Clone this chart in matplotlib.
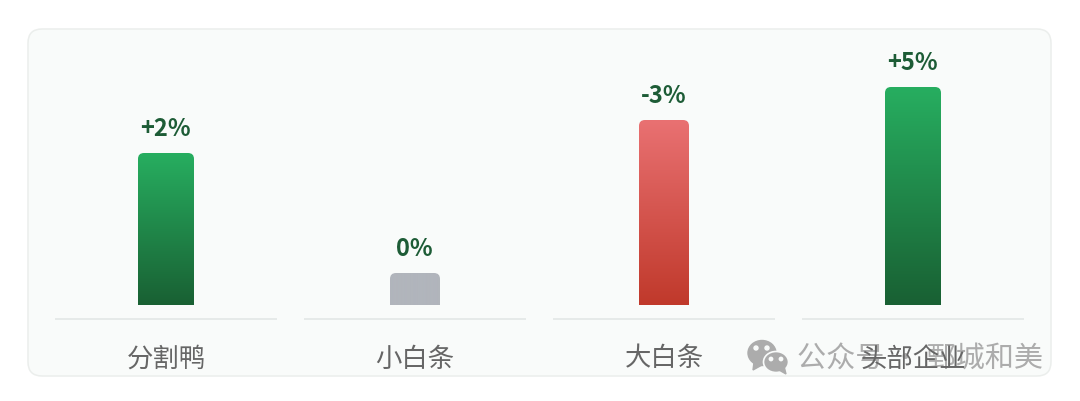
import numpy as np
import matplotlib
matplotlib.use("Agg")
import matplotlib.pyplot as plt
from matplotlib.colors import LinearSegmentedColormap
from matplotlib.patches import Ellipse, FancyBboxPatch, PathPatch, Polygon
from matplotlib.path import Path

plt.rcParams['font.family'] = ['Noto Sans CJK SC', 'DejaVu Sans']

categories = ['分割鸭', '小白条', '大白条', '头部企业']
bar_heights = [152, 32, 185, 218]
change_labels = ['+2%', '0%', '-3%', '+5%']
bar_widths = [56, 50, 50, 56]
bar_colors = [('#27ae60', '#196033'), ('#b1b5bc', '#b1b5bc'),
              ('#e97172', '#c0392b'), ('#27ae60', '#196033')]

W, H = 1080, 401
X0, STEP = 166, 249      # centre of first bar, distance between bars
BASE = 305               # pixel row of the bars' foot
RADIUS = 6


def rounded_top(x, w, h, rx, ry):
    """Контур столбца: скруглён только верх"""
    left, right = x - w / 2, x + w / 2
    verts = [(left, 0), (left, h - ry), (left, h), (left + rx, h),
             (right - rx, h), (right, h), (right, h - ry), (right, 0), (left, 0)]
    codes = [Path.MOVETO, Path.LINETO, Path.CURVE3, Path.CURVE3,
             Path.LINETO, Path.CURVE3, Path.CURVE3, Path.LINETO, Path.CLOSEPOLY]
    return Path(verts, codes)


fig = plt.figure(figsize=(W / 100, H / 100), dpi=100, facecolor='white')

# background layer in pixels: card, separators, watermark
bg = fig.add_axes([0, 0, 1, 1])
bg.set_xlim(0, W)
bg.set_ylim(H, 0)
bg.axis('off')
bg.add_patch(FancyBboxPatch((28, 29), 1023, 347, boxstyle='round,pad=0,rounding_size=14',
                            fc='#f9fbfa', ec='#ebeeec', lw=1.1))

# bars layer: x is the category index, y the bar height
ax = fig.add_axes([0, 0, 1, 1], zorder=2)
ax.patch.set_alpha(0)
ax.set_xlim(-X0 / STEP, (W - X0) / STEP)
ax.set_ylim(BASE - H, BASE)
ax.axis('off')

for i, (name, h, label, w, cols) in enumerate(zip(categories, bar_heights, change_labels,
                                                  bar_widths, bar_colors)):
    w = w / STEP
    cmap = LinearSegmentedColormap.from_list('bar', cols)
    im = ax.imshow(np.linspace(0, 1, 256).reshape(-1, 1), cmap=cmap, aspect='auto',
                   extent=(i - w / 2, i + w / 2, 0, h), origin='upper', zorder=2)
    patch = PathPatch(rounded_top(i, w, h, RADIUS / STEP, RADIUS), fc='none', ec='none',
                      transform=ax.transData)
    ax.add_patch(patch)
    im.set_clip_path(patch)
    ax.text(i - 0.003, h + 24, label, ha='center', va='center', fontsize=17,
            fontweight='bold', color='#1d5c36', zorder=3)

    # separator under the bar and the category name
    ax.plot([i - 0.447, i + 0.447], [-14, -14], color='#e1e5e4', lw=1.1, zorder=1,
            solid_capstyle='butt')
    ax.text(i, -54, name, ha='center', va='center', fontsize=19, color='#666666', zorder=3)

ax.set_xlim(-X0 / STEP, (W - X0) / STEP)
ax.set_ylim(BASE - H, BASE)

# watermark
wm = '#acacac'
top = fig.add_axes([0, 0, 1, 1], zorder=1)
top.patch.set_alpha(0)
top.set_xlim(0, W)
top.set_ylim(H, 0)
top.axis('off')
top.add_patch(Ellipse((762, 353), 28, 25, color=wm))
top.add_patch(Polygon([(754, 362), (753, 370), (762, 365)], color=wm))
top.add_patch(Ellipse((776, 362), 25, 21, fc=wm, ec='#f9fbfa', lw=1.2))
top.add_patch(Polygon([(779, 370), (786, 374), (784, 366)], color=wm))
for ex, ey, r in [(756, 348, 2), (767, 348, 2), (771, 359, 1.7), (781, 359, 1.7)]:
    top.add_patch(Ellipse((ex, ey), r * 2, r * 2, color='#f9fbfa'))
top.text(797, 360, '公众号 · 鄄城和美', ha='left', va='center', fontsize=21, color=wm)

fig.savefig('out.png', dpi=100)
